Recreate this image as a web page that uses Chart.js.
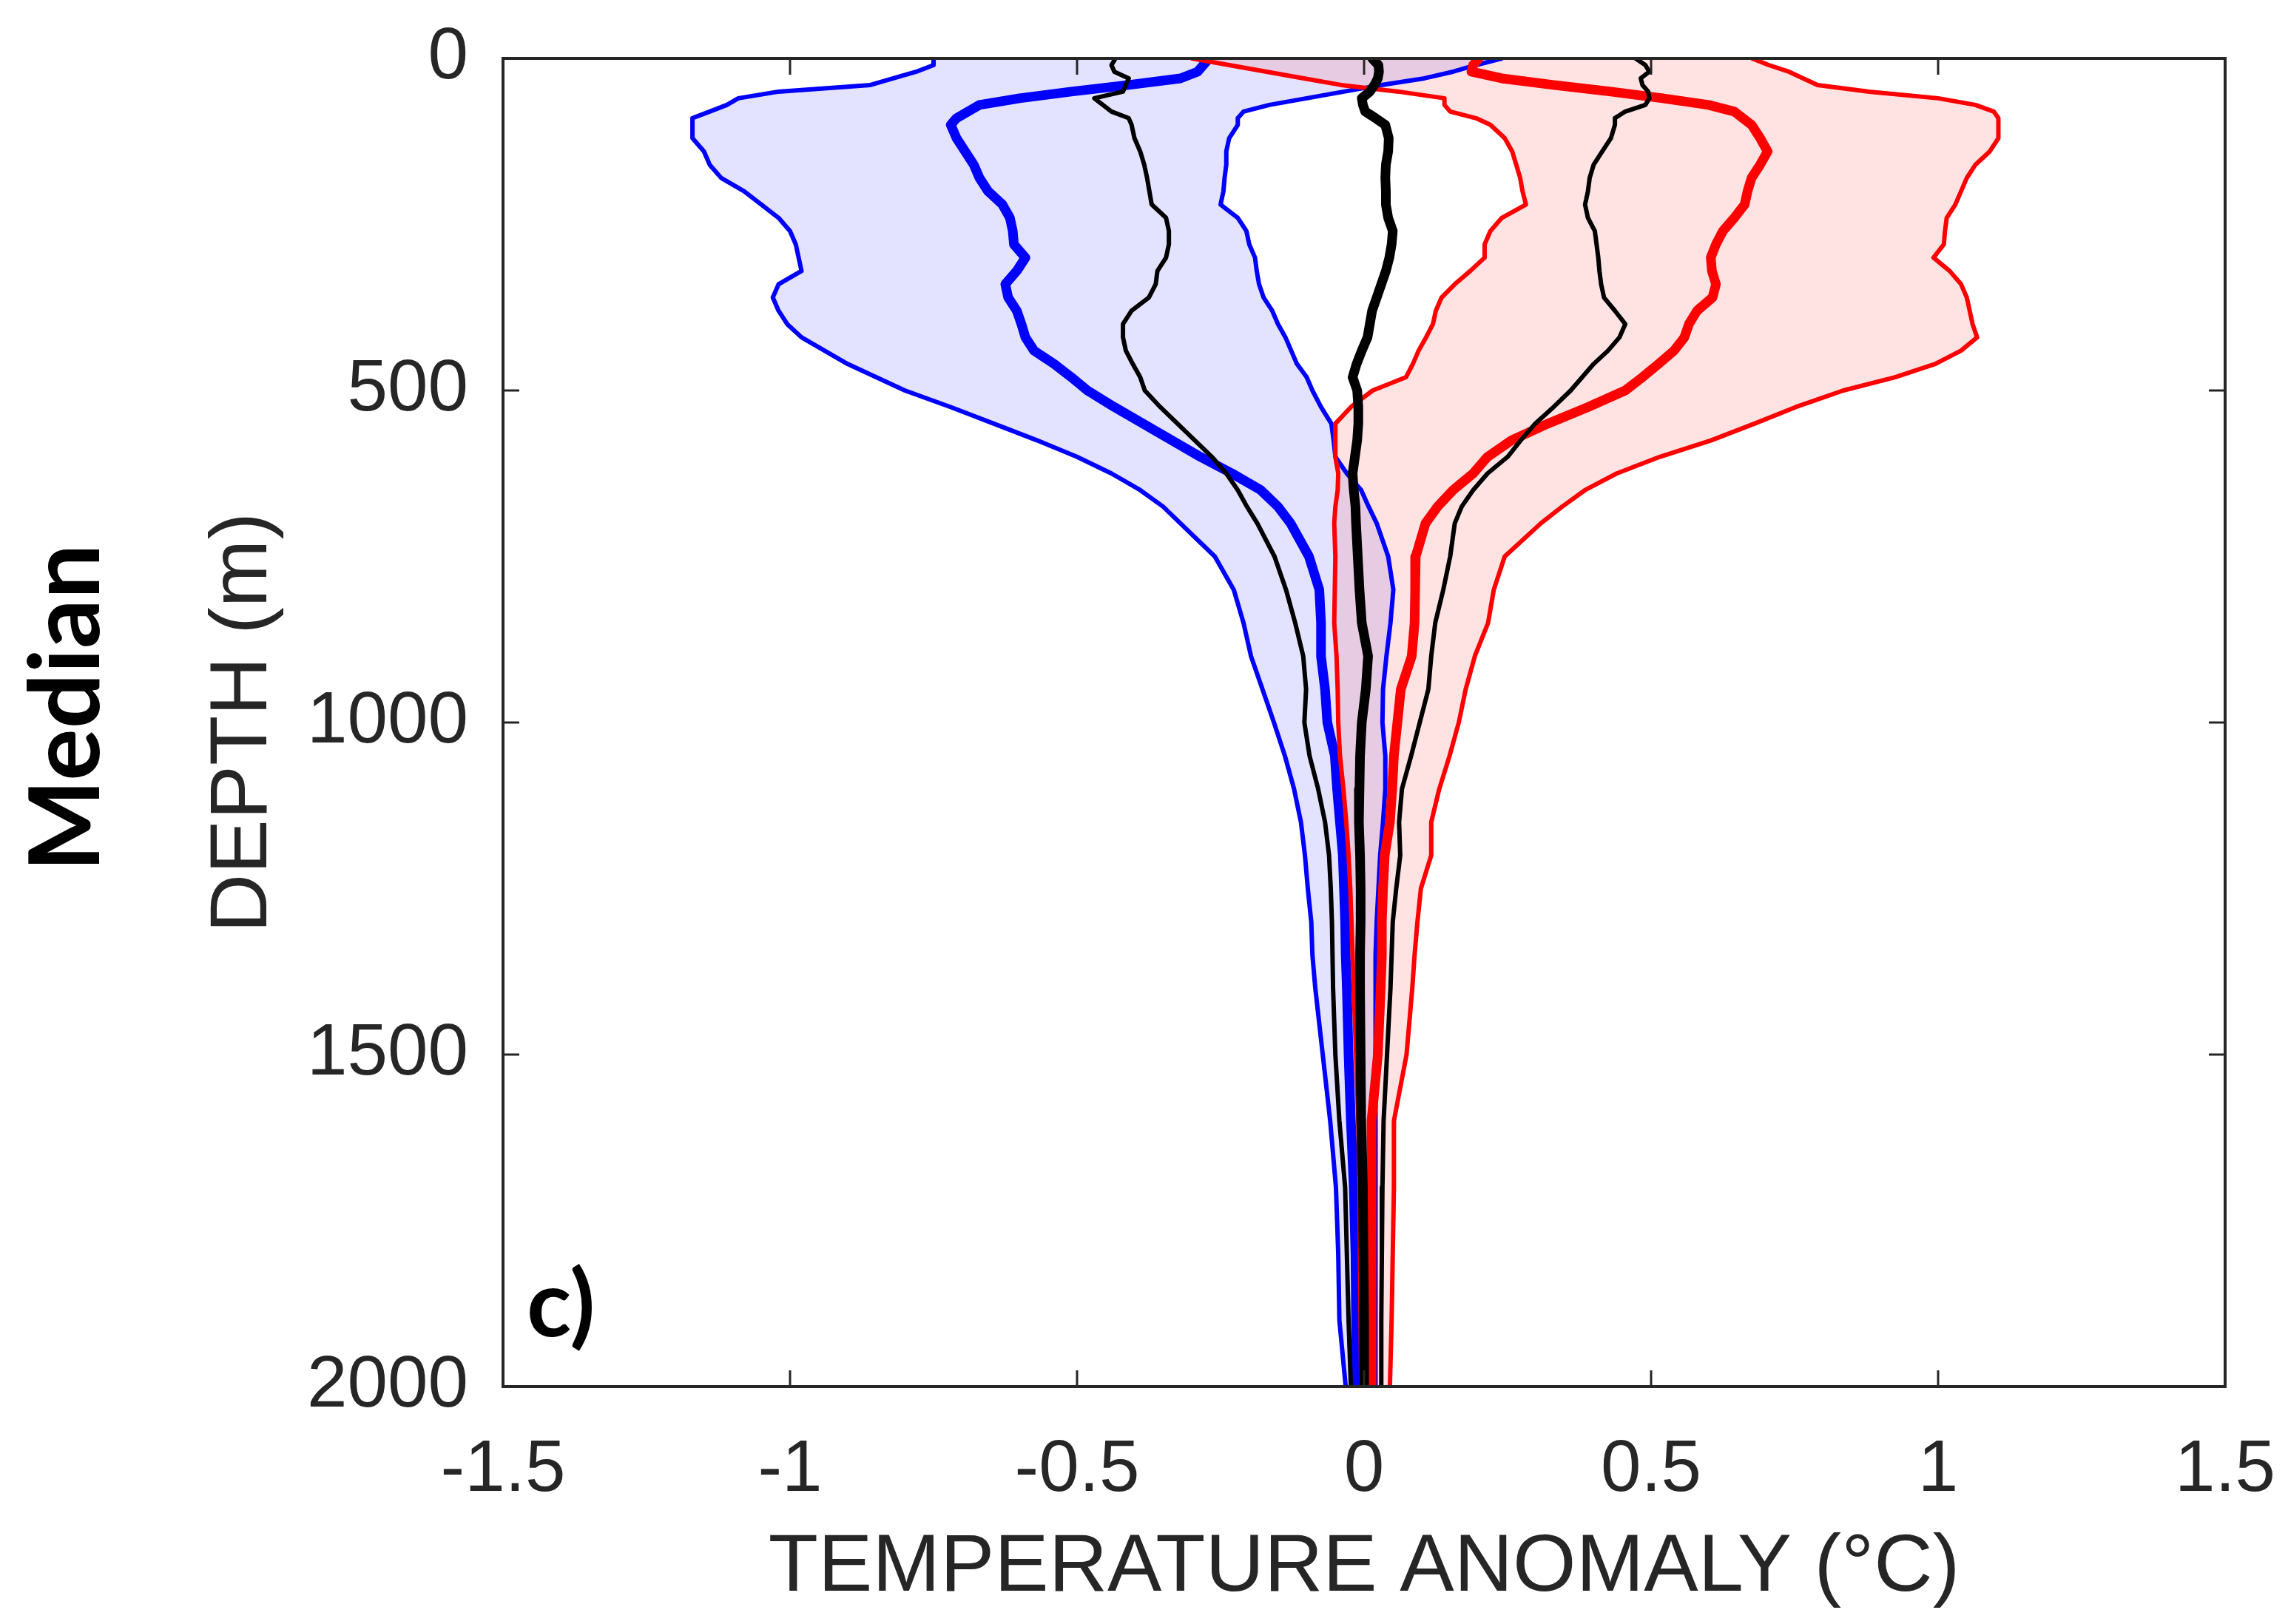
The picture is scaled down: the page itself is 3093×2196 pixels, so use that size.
<!DOCTYPE html>
<html>
<head>
<meta charset="utf-8">
<title>Median temperature anomaly profiles</title>
<script src="https://cdn.jsdelivr.net/npm/chart.js@4.4.1/dist/chart.umd.min.js"></script>
<style>
  html, body { margin: 0; padding: 0; background: #fff; }
  canvas { display: block; }
</style>
</head>
<body>
<canvas id="profileChart" width="3093" height="2196"></canvas>
<script>
// depth levels (m) shared by every profile
const depths = [0, 10, 20, 30, 40, 50, 60, 70, 80, 90, 100,
    120, 140, 160, 180, 200, 220, 240, 260, 280, 300, 320, 340, 360, 380, 400, 420, 440, 460, 480, 500,
    525, 550, 575, 600, 625, 650, 675, 700,
    750, 800, 850, 900, 950, 1000, 1050, 1100, 1150, 1200, 1250, 1300, 1350, 1400,
    1500, 1600, 1700, 1800, 1900, 2000];

// cold composite: lower bound, median, upper bound (°C)
const blueLow = [-0.75, -0.75, -0.78, -0.82, -0.86, -1.02, -1.09, -1.11, -1.14, -1.17, -1.17,
    -1.17, -1.15, -1.14, -1.12, -1.08, -1.05, -1.02, -1.00, -0.99, -0.985, -0.98, -1.02, -1.03, -1.02, -1.005, -0.98, -0.94, -0.90, -0.85, -0.80,
    -0.72, -0.645, -0.57, -0.50, -0.44, -0.39, -0.35, -0.32,
    -0.26, -0.227, -0.21, -0.197, -0.177, -0.157, -0.138, -0.122, -0.11, -0.103, -0.098, -0.092, -0.09, -0.085,
    -0.072, -0.059, -0.049, -0.045, -0.043, -0.032];
const blueMean = [-0.27, -0.28, -0.29, -0.32, -0.41, -0.51, -0.60, -0.67, -0.69, -0.71, -0.72,
    -0.71, -0.695, -0.68, -0.67, -0.655, -0.63, -0.617, -0.612, -0.61, -0.59, -0.605, -0.625, -0.62, -0.605, -0.597, -0.59, -0.575, -0.54, -0.51, -0.482,
    -0.435, -0.385, -0.335, -0.285, -0.23, -0.18, -0.15, -0.128,
    -0.096, -0.078, -0.075, -0.075, -0.068, -0.064, -0.051, -0.047, -0.042, -0.037, -0.035, -0.033, -0.032, -0.03,
    -0.027, -0.023, -0.018, -0.015, -0.014, -0.013];
const blueHigh = [0.24, 0.195, 0.155, 0.105, 0.03, -0.035, -0.10, -0.165, -0.21, -0.22, -0.22,
    -0.235, -0.24, -0.24, -0.243, -0.245, -0.25, -0.22, -0.205, -0.20, -0.19, -0.187, -0.183, -0.175, -0.16, -0.15, -0.137, -0.127, -0.117, -0.10, -0.09,
    -0.075, -0.057, -0.053, -0.05, -0.03, -0.005, 0.008, 0.022,
    0.042, 0.051, 0.046, 0.039, 0.033, 0.032, 0.037, 0.037, 0.033, 0.028, 0.025, 0.022, 0.02, 0.02,
    0.02, 0.02, 0.02, 0.02, 0.02, 0.02];

// all profiles: lower, median, upper
const blackLow = [-0.433, -0.44, -0.435, -0.41, -0.415, -0.42, -0.47, -0.455, -0.44, -0.41, -0.405,
    -0.40, -0.39, -0.383, -0.378, -0.374, -0.37, -0.345, -0.34, -0.34, -0.345, -0.36, -0.363, -0.375, -0.405, -0.42, -0.42, -0.415, -0.403, -0.39, -0.382,
    -0.355, -0.325, -0.295, -0.265, -0.24, -0.22, -0.204, -0.186,
    -0.156, -0.136, -0.12, -0.106, -0.101, -0.104, -0.095, -0.08, -0.068, -0.061, -0.058, -0.056, -0.055, -0.054,
    -0.05, -0.043, -0.033, -0.03, -0.027, -0.023];
const blackMid = [0.014, 0.025, 0.026, 0.024, 0.018, 0.01, -0.004, -0.002, 0.002, 0.02, 0.037,
    0.043, 0.042, 0.038, 0.037, 0.038, 0.038, 0.042, 0.05, 0.048, 0.044, 0.038, 0.03, 0.022, 0.014, 0.01, 0.006, -0.004, -0.013, -0.02, -0.012,
    -0.01, -0.01, -0.012, -0.016, -0.02, -0.018, -0.015, -0.014,
    -0.011, -0.008, -0.004, 0.007, 0.003, -0.004, -0.007, -0.008, -0.009, -0.007, -0.006, -0.006, -0.007, -0.007,
    -0.006, -0.005, -0.002, -0.001, 0, 0];
const blackHigh = [0.473, 0.49, 0.497, 0.482, 0.485, 0.495, 0.497, 0.49, 0.455, 0.437, 0.437,
    0.43, 0.415, 0.40, 0.393, 0.39, 0.385, 0.39, 0.402, 0.405, 0.408, 0.41, 0.413, 0.418, 0.437, 0.455, 0.445, 0.425, 0.40, 0.38, 0.36,
    0.33, 0.298, 0.273, 0.25, 0.215, 0.19, 0.17, 0.158,
    0.15, 0.138, 0.124, 0.117, 0.112, 0.097, 0.082, 0.066, 0.061, 0.063, 0.056, 0.05, 0.048, 0.046,
    0.04, 0.034, 0.032, 0.031, 0.03, 0.03];

// warm composite: lower bound, median, upper bound
const redLow = [-0.30, -0.235, -0.17, -0.105, -0.04, 0.06, 0.14, 0.14, 0.15, 0.195, 0.22,
    0.245, 0.258, 0.265, 0.272, 0.276, 0.282, 0.24, 0.22, 0.21, 0.21, 0.185, 0.158, 0.135, 0.125, 0.12, 0.108, 0.095, 0.085, 0.073, 0.015,
    -0.023, -0.05, -0.05, -0.05, -0.045, -0.046, -0.05, -0.052,
    -0.05, -0.051, -0.052, -0.048, -0.046, -0.045, -0.042, -0.036, -0.031, -0.027, -0.024, -0.022, -0.02, -0.018,
    -0.014, -0.01, -0.008, -0.007, -0.006, -0.005];
const redMean = [0.20, 0.19, 0.187, 0.24, 0.33, 0.43, 0.52, 0.60, 0.645, 0.66, 0.675,
    0.69, 0.703, 0.69, 0.675, 0.668, 0.663, 0.645, 0.625, 0.613, 0.604, 0.606, 0.613, 0.607, 0.58, 0.566, 0.558, 0.54, 0.513, 0.485, 0.455,
    0.39, 0.32, 0.257, 0.215, 0.19, 0.155, 0.128, 0.107,
    0.09, 0.089, 0.088, 0.083, 0.064, 0.058, 0.052, 0.049, 0.045, 0.036, 0.033, 0.031, 0.031, 0.029,
    0.024, 0.013, 0.013, 0.013, 0.013, 0.013];
const redHigh = [0.676, 0.705, 0.74, 0.765, 0.79, 0.88, 1.0, 1.065, 1.097, 1.105, 1.105,
    1.105, 1.09, 1.065, 1.05, 1.04, 1.03, 1.015, 1.012, 1.01, 0.992, 1.02, 1.04, 1.05, 1.055, 1.06, 1.068, 1.04, 0.995, 0.925, 0.835,
    0.752, 0.68, 0.605, 0.515, 0.44, 0.385, 0.345, 0.308,
    0.245, 0.226, 0.216, 0.193, 0.177, 0.165, 0.149, 0.131, 0.117, 0.117, 0.099, 0.093, 0.088, 0.084,
    0.074, 0.052, 0.052, 0.05, 0.048, 0.045];

const xTicks = [-1.5, -1, -0.5, 0, 0.5, 1, 1.5];
const xTickLabels = ['-1.5', '-1', '-0.5', '0', '0.5', '1', '1.5'];
const yTicks = [0, 500, 1000, 1500, 2000];
const yTickLabels = ['0', '500', '1000', '1500', '2000'];

const axisColor = '#262626';
const THIN = 6;
const THICK = 13;

function profile(values) {
    return values.map((v, i) => ({ x: v, y: depths[i] }));
}

function series(values, color, width, fill, fillColor) {
    return {
        data: profile(values),
        borderColor: color,
        borderWidth: width,
        backgroundColor: fillColor || 'transparent',
        fill: fill,
        pointRadius: 0,
        tension: 0,
        borderJoinStyle: 'round',
        borderCapStyle: 'round'
    };
}

// index 0 is drawn last, so the black profiles sit on top
const datasets = [
    series(blackMid, '#000000', THICK, false),
    series(blackLow, '#000000', THIN, false),
    series(blackHigh, '#000000', THIN, false),
    series(redMean, '#ff0000', THICK, false),
    series(redLow, '#ff0000', THIN, false),
    series(redHigh, '#ff0000', THIN, { target: 4 }, 'rgba(255, 0, 0, 0.11)'),
    series(blueMean, '#0000ff', THICK, false),
    series(blueLow, '#0000ff', THIN, false),
    series(blueHigh, '#0000ff', THIN, { target: 7 }, 'rgba(0, 0, 255, 0.11)')
];

// box around the plot with inward ticks on all four sides
const boxTicks = {
    id: 'boxTicks',
    afterDatasetsDraw(chart) {
        const ctx = chart.ctx;
        const { left, right, top, bottom } = chart.chartArea;
        const sx = chart.scales.x;
        const sy = chart.scales.y;
        const len = 22;
        ctx.save();
        ctx.strokeStyle = axisColor;
        ctx.lineWidth = 3;
        ctx.beginPath();
        sx.ticks.forEach(t => {
            const p = sx.getPixelForValue(t.value);
            ctx.moveTo(p, bottom); ctx.lineTo(p, bottom - len);
            ctx.moveTo(p, top); ctx.lineTo(p, top + len);
        });
        sy.ticks.forEach(t => {
            const p = sy.getPixelForValue(t.value);
            ctx.moveTo(left, p); ctx.lineTo(left + len, p);
            ctx.moveTo(right, p); ctx.lineTo(right - len, p);
        });
        ctx.stroke();
        ctx.lineWidth = 4;
        ctx.strokeRect(left, top, right - left, bottom - top);
        ctx.restore();
    }
};

// panel letter and row title
const panelLabels = {
    id: 'panelLabels',
    afterDraw(chart) {
        const ctx = chart.ctx;
        ctx.save();
        ctx.fillStyle = '#000000';
        ctx.font = 'bold 125px Lato';
        ctx.textAlign = 'left';
        ctx.textBaseline = 'alphabetic';
        ctx.fillText('c)', 712, 1807);

        ctx.font = 'bold 132px Lato';
        ctx.translate(134, 957);
        ctx.rotate(-Math.PI / 2);
        ctx.textAlign = 'center';
        ctx.fillText('Median', 0, 0);
        ctx.restore();
    }
};

const tickFont = { family: "'Liberation Sans', Arial, sans-serif", size: 98 };
const titleFont = { family: "'Liberation Sans', Arial, sans-serif", size: 110 };

new Chart(document.getElementById('profileChart'), {
    type: 'line',
    data: { datasets: datasets },
    options: {
        indexAxis: 'y',
        responsive: false,
        animation: false,
        devicePixelRatio: 1,
        layout: { padding: { left: 0, right: 85, top: 79, bottom: 0 } },
        plugins: {
            legend: { display: false },
            tooltip: { enabled: false },
            filler: { drawTime: 'beforeDatasetsDraw' }
        },
        scales: {
            x: {
                type: 'linear',
                position: 'bottom',
                min: -1.5,
                max: 1.5,
                afterBuildTicks: s => { s.ticks = xTicks.map(v => ({ value: v })); },
                afterFit: s => {
                    s.height = 321;
                    s.paddingLeft = 0;
                    s.paddingRight = 0;
                },
                grid: { display: false },
                border: { display: false },
                ticks: {
                    font: tickFont,
                    color: axisColor,
                    padding: 47,
                    maxRotation: 0,
                    autoSkip: false,
                    callback: (v, i) => xTickLabels[i]
                },
                title: {
                    display: true,
                    text: 'TEMPERATURE ANOMALY (°C)',
                    font: titleFont,
                    color: axisColor,
                    padding: { top: 0, bottom: 9 }
                }
            },
            y: {
                type: 'linear',
                position: 'left',
                reverse: true,
                min: 0,
                max: 2000,
                afterBuildTicks: s => { s.ticks = yTicks.map(v => ({ value: v })); },
                afterFit: s => {
                    s.width = 680;
                    s.paddingTop = 0;
                    s.paddingBottom = 0;
                },
                grid: { display: false },
                border: { display: false },
                ticks: {
                    font: tickFont,
                    color: axisColor,
                    padding: 39,
                    autoSkip: false,
                    callback: (v, i) => yTickLabels[i]
                },
                title: {
                    display: true,
                    text: 'DEPTH (m)',
                    font: titleFont,
                    color: axisColor,
                    padding: { top: 264, bottom: 0 }
                }
            }
        }
    },
    plugins: [boxTicks, panelLabels]
});
</script>
</body>
</html>
